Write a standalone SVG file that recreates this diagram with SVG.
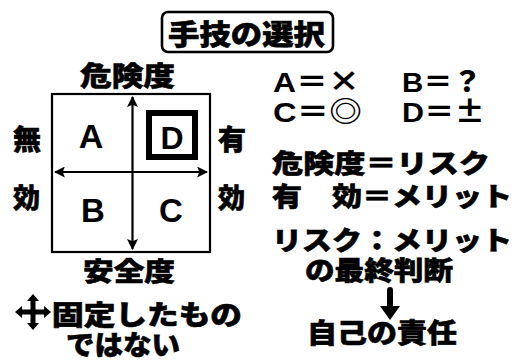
<svg xmlns="http://www.w3.org/2000/svg" width="520" height="360" viewBox="0 0 520 360">
<style>
.j{font-family:"Noto Sans CJK JP","Noto Sans CJK SC",sans-serif;font-weight:900;fill:#000;stroke:#000;stroke-width:0.6}
.l{font-family:"Liberation Sans","Noto Sans CJK JP",sans-serif;font-weight:700;fill:#000}
.s{font-family:"Noto Sans CJK JP",sans-serif;font-weight:900}
.ln{stroke:#000;stroke-width:2.2;fill:none}
</style>
<defs>
<marker id="ah" viewBox="0 0 10 10" refX="9" refY="5" markerWidth="5" markerHeight="5" orient="auto-start-reverse" markerUnits="strokeWidth">
<path d="M0,0 L10,5 L0,10 L2,5 z" fill="#000"/>
</marker>
</defs>
<rect width="520" height="360" fill="#fff"/>

<g id="title">
<rect x="162" y="12" width="171" height="40" rx="6" fill="#fff" stroke="#000" stroke-width="2.6"/>
<text class="j" x="168" y="45" font-size="28" textLength="157" lengthAdjust="spacingAndGlyphs">手技の選択</text>
</g>

<g id="matrix">
<rect x="52" y="94" width="158" height="158" class="ln"/>
<rect x="149" y="113" width="46" height="44" fill="none" stroke="#000" stroke-width="6"/>
</g>

<g id="connectors">
<line x1="132.5" y1="97" x2="132.5" y2="249" class="ln" marker-start="url(#ah)" marker-end="url(#ah)"/>
<line x1="55" y1="172" x2="207" y2="172" class="ln" marker-start="url(#ah)" marker-end="url(#ah)"/>
<line x1="390" y1="290" x2="390" y2="309" stroke="#000" stroke-width="6" stroke-linecap="round"/>
<path d="M380,306 L400,306 L390,320 Z" fill="#000"/>
</g>

<g id="labels-matrix">
<text class="j" x="80" y="86" font-size="27" textLength="95" lengthAdjust="spacingAndGlyphs">危険度</text>
<text class="j" x="83" y="281" font-size="26" textLength="92" lengthAdjust="spacingAndGlyphs">安全度</text>
<text class="j" x="13" y="150" font-size="28">無</text>
<text class="j" x="218" y="150" font-size="28">有</text>
<text class="j" x="13" y="208" font-size="27">効</text>
<text class="j" x="218" y="208" font-size="27">効</text>
</g>

<g id="cell-A"><text class="l" x="91" y="148" font-size="34" text-anchor="middle">A</text></g>
<g id="cell-D"><text class="l" x="172" y="149" font-size="32" text-anchor="middle">D</text></g>
<g id="cell-B"><text class="l" x="93" y="222" font-size="33" text-anchor="middle">B</text></g>
<g id="cell-C"><text class="l" x="171" y="222" font-size="33" text-anchor="middle">C</text></g>

<g id="moves">
<path d="M33,294 L39,301 L35.5,301 L35.5,309.5 L44,309.5 L44,306 L51,312 L44,318 L44,314.5 L35.5,314.5 L35.5,323 L39,323 L33,330 L27,323 L30.5,323 L30.5,314.5 L22,314.5 L22,318 L15,312 L22,306 L22,309.5 L30.5,309.5 L30.5,301 L27,301 Z" fill="#000"/>
<text class="j" x="52" y="325" font-size="27" textLength="190" lengthAdjust="spacingAndGlyphs">固定したもの</text>
<text class="j" x="66" y="355" font-size="27" textLength="114" lengthAdjust="spacingAndGlyphs">ではない</text>
</g>

<g id="legend">
<text class="l" x="273" y="92" font-size="28" textLength="87" lengthAdjust="spacingAndGlyphs">A<tspan class="s">＝×</tspan></text>
<text class="l" x="402" y="92" font-size="28" textLength="80" lengthAdjust="spacingAndGlyphs">B<tspan class="s">＝？</tspan></text>
<text class="l" x="273" y="122" font-size="28" textLength="89" lengthAdjust="spacingAndGlyphs">C<tspan class="s">＝◎</tspan></text>
<text class="l" x="402" y="122" font-size="28" textLength="83" lengthAdjust="spacingAndGlyphs">D<tspan class="s">＝±</tspan></text>
<text class="j" x="272" y="173" font-size="26" textLength="218" lengthAdjust="spacingAndGlyphs">危険度＝リスク</text>
<text class="j" x="272" y="206" font-size="26" textLength="240" lengthAdjust="spacingAndGlyphs">有　効＝メリット</text>
<text class="j" x="272" y="250" font-size="26" textLength="240" lengthAdjust="spacingAndGlyphs">リスク：メリット</text>
<text class="j" x="305" y="280" font-size="26" textLength="148" lengthAdjust="spacingAndGlyphs">の最終判断</text>
<text class="j" x="307" y="343" font-size="27" textLength="150" lengthAdjust="spacingAndGlyphs">自己の責任</text>
</g>
</svg>
